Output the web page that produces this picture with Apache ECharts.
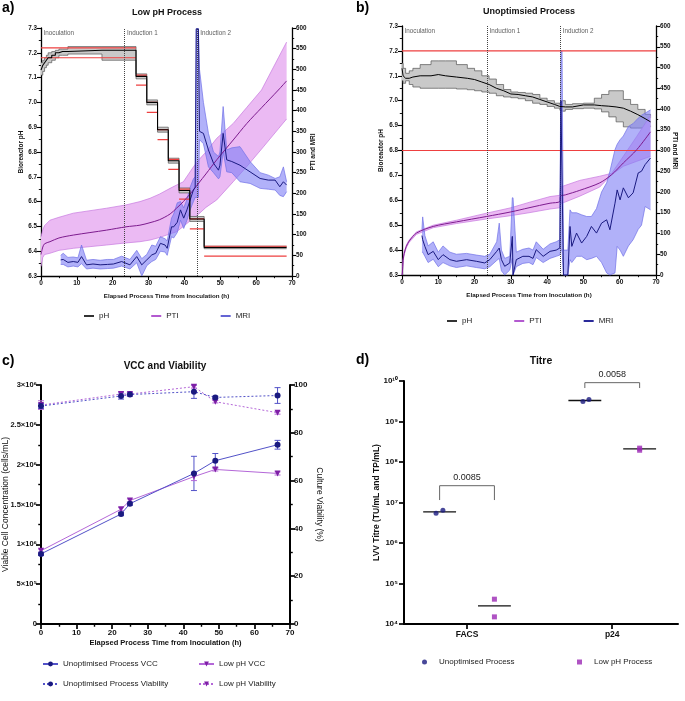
<!DOCTYPE html>
<html><head><meta charset="utf-8">
<script src="https://cdn.jsdelivr.net/npm/echarts@6/dist/echarts.min.js"></script>
<style>html,body{margin:0;padding:0;background:#fff}#c{width:685px;height:701px}</style>
</head><body><div id="c"></div>
<script>
// ---------------- DATA ----------------
// Panel a: Low pH process
const phA_t    = [0,0.5,1,1.5,2,3,4,5,6,7.5,17,26.5,29.5,32.5,35.5,38.5,41.5,45.5,68.5];
const phA_mean = [7.13,7.15,7.16,7.17,7.18,7.19,7.2,7.205,7.205,7.21,7.21,7.105,7.0,6.89,6.765,6.645,6.53,6.415,6.415];
const phA_lo   = [7.11,7.125,7.14,7.15,7.16,7.17,7.18,7.19,7.19,7.195,7.17,7.095,6.99,6.88,6.755,6.635,6.52,6.41,6.41];
const phA_hi   = [7.16,7.17,7.18,7.19,7.2,7.205,7.21,7.215,7.215,7.225,7.225,7.115,7.01,6.9,6.775,6.655,6.54,6.42,6.42];
const spA_start = [0,26.5,29.5,32.5,35.5,38.5,41.5,45.5];
const spA_end   = [26.5,29.5,32.5,35.5,38.5,41.5,45.5,68.5];
const spA_hi    = [7.22,7.11,7.0,6.89,6.77,6.65,6.53,6.42];
const spA_lo    = [7.18,7.07,6.96,6.85,6.73,6.61,6.49,6.38];
const ptiA_t    = [0,0.5,1,2.5,5,9,18.3,23.7,27.6,30.4,33,36,37.8,39.7,42.5,44,46,49,53.6,57.4,61.5,66.2,68.5];
const ptiA_mean = [52,70,78,83,92,99,111,119,123,129,136,150,164,180,208,225,247,281,329,369,407,450,472];
const ptiA_hi   = [95,112,122,135,142,152,164,172,180,188,198,212,220,228,264,281,300,333,369,408,450,528,566];
const ptiA_lo   = [23,45,52,55,62,67,75,80,83,87,93,102,107,120,140,150,166,184,228,265,307,356,380];
const mriA_t    = [5.5,6.2,7.5,9,10.3,11.3,12.7,14.5,16.5,18.5,20.2,22.5,24.8,26.7,28.1,29.5,30.9,32,33.3,34.6,35.2,36.4,37,38,38.9,39.8,40.7,41.6,42.5,43,43.3,43.9,44.2,45.3,46.7,48.1,49.5,49.9,50.8,51.8,53.2,55.5,58.3,61.1,63.4,65.3,66.6,67.6,68.5];
const mriA_mean = [39,40,33,35,33,47,27,29,27,28,29,35,27,47,27,39,51,55,79,75,67,119,119,130,160,140,160,184,208,215,598,598,350,345,305,273,256,268,345,281,277,268,252,236,232,232,216,228,220];
const mriA_hi   = [50,55,45,46,44,75,38,40,38,40,40,48,40,62,42,52,75,72,95,90,85,140,150,177,180,165,185,215,235,240,598,598,500,420,345,300,289,300,410,305,310,313,277,250,244,236,240,264,228];
const mriA_lo   = [28,28,22,24,22,30,17,19,17,18,19,24,17,32,0,25,35,40,60,58,50,95,92,105,135,115,135,160,180,190,190,190,330,320,264,250,235,240,300,252,250,228,224,212,210,208,195,192,204];

// Panel b: Unoptimised process
const phB_t    = [0,0.3,1,2,3,5,8,10,12,15,18,20,22,24,26,28,30,32,34,36,38,40,42,43.5,44,45,47,50,53,55,57,59,61,63,65,67,68.5];
const phB_mean = [7.13,7.1,7.09,7.09,7.095,7.1,7.1,7.105,7.1,7.095,7.09,7.085,7.075,7.065,7.05,7.04,7.027,7.025,7.02,7.015,7.005,6.995,6.985,6.977,6.97,6.975,6.975,6.983,6.983,6.98,6.978,6.975,6.97,6.958,6.944,6.928,6.915];
const phB_hi   = [7.15,7.13,7.11,7.12,7.13,7.145,7.16,7.16,7.16,7.145,7.13,7.12,7.1,7.087,7.065,7.045,7.035,7.033,7.03,7.025,7.01,7.0,6.99,6.985,7.0,6.985,6.988,6.99,7.01,7.025,7.04,7.04,7.005,6.985,6.965,6.945,6.93];
const phB_lo   = [7.08,7.07,7.08,7.065,7.055,7.05,7.05,7.05,7.05,7.047,7.044,7.04,7.035,7.03,7.02,7.015,7.012,7.008,7.0,6.99,6.985,6.977,6.97,6.962,6.958,6.965,6.968,6.97,6.967,6.955,6.935,6.915,6.895,6.89,6.89,6.895,6.9];
const limB = [7.2, 6.8];
const ptiB_t    = [0,0.1,0.3,0.6,1.2,2,4,8.6,15,23.3,30,35,40.8,43.5,43.7,45,49,54.5,57.8,61,64.7,68.5];
const ptiB_mean = [0,5,35,52,69,82,101,117,128,141,152,162,173,177,190,193,204,222,242,270,302,345];
const ptiB_hi   = [0,6,37,55,72,85,104,120,132,149,162,175,189,192,212,216,228,238,245,286,334,385];
const ptiB_lo   = [0,4,33,49,66,79,98,114,124,135,143,150,159,162,172,176,190,212,242,262,274,286];
const mriB_t    = [5.5,5.7,6.3,7.2,8.6,10,11.3,13.2,15,17.8,20.5,22.8,24.2,26.1,26.8,27.4,28.3,29.7,30.4,30.6,31.5,33.3,35,36.1,37,38.9,40.8,42.5,43.5,43.8,44.1,44.5,45.7,46.3,46.8,48.1,49.5,50.9,52.2,53.6,55,56.4,57.3,58.7,59.3,60.1,61,62.4,63.7,65.1,66,67,68.5];
const mriB_mean = [95,85,69,49,57,37,49,37,33,37,33,29,37,57,65,37,21,29,93,0,37,45,45,40,61,45,57,60,65,420,420,0,0,117,69,101,77,93,117,101,125,133,109,173,205,181,210,186,198,246,250,266,282];
const mriB_hi   = [110,140,95,70,80,55,70,55,50,52,48,45,50,80,125,60,40,45,186,186,55,62,65,60,80,62,75,80,85,540,540,60,60,157,150,150,145,141,141,160,200,222,250,302,315,326,335,358,365,378,385,390,398];
const mriB_lo   = [55,55,45,30,38,20,30,22,18,22,18,15,20,35,40,10,0,12,40,0,20,28,30,25,42,30,40,45,48,60,60,0,0,37,30,45,45,37,40,45,30,5,0,5,69,60,45,70,85,110,120,165,157];

const eventNames = ['Inoculation','Induction 1','Induction 2'];
const eventA_t = [0, 23.3, 43.7];
const eventB_t = [0, 23.4, 43.6];

// Panel c: VCC and viability
const vccT = [0, 22.5, 25, 43, 49, 66.5];
const unoptVCC = [0.88e6, 1.38e6, 1.51e6, 1.89e6, 2.05e6, 2.25e6];
const unoptVCCerr = [0.02e6, 0.02e6, 0.02e6, 0.215e6, 0.09e6, 0.055e6];
const lowVCC = [0.92e6, 1.44e6, 1.55e6, 1.85e6, 1.94e6, 1.89e6];
const lowVCCerr = [0.02e6, 0.02e6, 0.02e6, 0.05e6, 0.02e6, 0.02e6];
const unoptViab = [91.2, 95.4, 96, 97.2, 94.8, 95.6];
const unoptViabErr = [1, 1.3, 0.7, 2.8, 0.5, 3.3];
const lowViab = [91.6, 96.2, 96.2, 99.3, 93, 88.4];
const lowViabErr = [1.8, 1, 0.8, 0.6, 0.5, 0.6];

// Panel d: Titre
const titreCats = ['FACS', 'p24'];
const unoptTitre = [[5.4e6, 6.4e6], [3.1e9, 3.5e9]];
const lowTitre = [[4.1e4, 1.5e4], [2.2e8, 1.95e8]];
const unoptTitreMean = [5.9e6, 3.3e9];
const lowTitreMean = [2.8e4, 2.1e8];
const pValues = ['0.0085', '0.0058'];

// ---------------- LAYOUT CONSTANTS ----------------
const catPos = [23, 76];
const grpOff = 10;
const unoptJit = [[-1.3, 1.2], [-0.7, 1.5]];
const lowJit = [[0, 0], [0, 0]];
const meanHalf = 6;
const brTop = [2.6e7, 9.1e9];
const brBot = [1.15e7, 6.7e9];

const FONT = "'Liberation Sans', Arial, Helvetica, sans-serif";
const SUP = {'0':'⁰','1':'¹','2':'²','3':'³','4':'⁴','5':'⁵','6':'⁶','7':'⁷','8':'⁸','9':'⁹','-':'⁻'};
const sup = s => String(s).split('').map(c => SUP[c] || c).join('');

function merge(t, s) {
  for (const k in s) {
    const v = s[k];
    if (v && typeof v === 'object' && !Array.isArray(v)) t[k] = merge((t[k] && typeof t[k] === 'object') ? t[k] : {}, v);
    else t[k] = v;
  }
  return t;
}
function axisBase(lw, tl, fs, extra) {
  return merge({
    type: 'value',
    nameMoveOverlap: false,
    axisLine: {show: true, onZero: false, lineStyle: {color: '#000', width: lw}},
    axisTick: {show: true, inside: false, length: tl, lineStyle: {color: '#000', width: lw * 0.85}},
    minorTick: {show: true, splitNumber: 2, length: tl * 0.55, lineStyle: {color: '#000', width: lw * 0.7}},
    splitLine: {show: false}, minorSplitLine: {show: false},
    axisLabel: {color: '#111', fontSize: fs, fontWeight: 'bold', fontFamily: FONT},
    nameLocation: 'middle',
    nameTextStyle: {color: '#111', fontWeight: 'bold', fontFamily: FONT}
  }, extra);
}
const pairs = (t, v) => t.map((x, i) => [x, v[i]]);
function segs(st, en, v) {
  const d = [];
  st.forEach((s, i) => { d.push([s, v[i]]); d.push([en[i], v[i]]); d.push([en[i], '-']); });
  return d;
}
// shaded band between lo and hi, drawn as one polygon through the axis scales
function band(xi, yi, t, lo, hi, fill, border, step, z) {
  return {type: 'custom', xAxisIndex: xi, yAxisIndex: yi, silent: true, z: z,
    data: t.map((x, i) => [x, lo[i], hi[i]]), encode: {x: 0, y: [1, 2]},
    renderItem: (p, api) => {
      if (p.dataIndex !== 0) return null;
      const up = [], dn = [];
      for (let i = 0; i < t.length; i++) {
        if (step && i > 0) { up.push(api.coord([t[i], hi[i - 1]])); dn.push(api.coord([t[i], lo[i - 1]])); }
        up.push(api.coord([t[i], hi[i]])); dn.push(api.coord([t[i], lo[i]]));
      }
      return {type: 'group', children: [
        {type: 'polygon', shape: {points: up.concat(dn.slice().reverse())}, style: {fill: fill, stroke: null}},
        {type: 'polyline', shape: {points: up}, style: {stroke: border, lineWidth: 0.7, fill: null}},
        {type: 'polyline', shape: {points: dn}, style: {stroke: border, lineWidth: 0.7, fill: null}}
      ]};
    }};
}
function eventSeries(xi, yi, times) {
  return {type: 'scatter', xAxisIndex: xi, yAxisIndex: yi, symbolSize: 1, silent: true, z: 20,
    itemStyle: {color: 'transparent'},
    data: times.map((t, i) => ({value: [t, 7.278], name: eventNames[i]})),
    label: {show: true, position: 'right', distance: 2, formatter: p => p.name, fontSize: 6.3, color: '#333', fontFamily: FONT}};
}
function errSeries(xi, yi, t, v, e, color, w) {
  return {type: 'custom', xAxisIndex: xi, yAxisIndex: yi, silent: true, z: 4,
    data: t.map((x, i) => [x, v[i] - e[i], v[i] + e[i]]),
    encode: {x: 0, y: [1, 2]},
    renderItem: (p, api) => {
      const x = api.value(0);
      const a = api.coord([x, api.value(1)]), b = api.coord([x, api.value(2)]);
      const st = {stroke: color, lineWidth: 1};
      return {type: 'group', children: [
        {type: 'line', shape: {x1: a[0], y1: a[1], x2: b[0], y2: b[1]}, style: st},
        {type: 'line', shape: {x1: a[0] - w, y1: a[1], x2: a[0] + w, y2: a[1]}, style: st},
        {type: 'line', shape: {x1: b[0] - w, y1: b[1], x2: b[0] + w, y2: b[1]}, style: st}
      ]};
    }};
}

const C = {
  ph: '#000', phBand: '#c9c9c9', phBorder: '#555',
  red: '#ee4040',
  pti: '#7d1b8e', ptiBand: '#ebbaf3', ptiBorder: '#c77ae0',
  mri: '#1a1a80', mriBand: 'rgba(125,125,245,0.6)', mriBorder: '#7070e6',
  uLine: '#5252c8', uMark: '#1a1a80', lLine: '#b467d8', lMark: '#7e1fa6',
  dU: '#1a1a80', dL: '#9b28b4'
};

const xName = 'Elapsed Process Time from Inoculation (h)';

const option = {
  animation: false,
  backgroundColor: '#fff',
  textStyle: {fontFamily: FONT},
  title: [
    {text: 'a)', left: 2, top: 1, padding: 0, textStyle: {fontSize: 14, fontWeight: 'bold', color: '#000', fontFamily: FONT}},
    {text: 'Low pH Process', left: 167, top: 8, padding: 0, textAlign: 'center', textStyle: {fontSize: 9, fontWeight: 'bold', color: '#111', fontFamily: FONT}},
    {text: 'b)', left: 356, top: 1, padding: 0, textStyle: {fontSize: 14, fontWeight: 'bold', color: '#000', fontFamily: FONT}},
    {text: 'Unoptimsied Process', left: 529, top: 7, padding: 0, textAlign: 'center', textStyle: {fontSize: 9, fontWeight: 'bold', color: '#111', fontFamily: FONT}},
    {text: 'c)', left: 2, top: 354, padding: 0, textStyle: {fontSize: 14, fontWeight: 'bold', color: '#000', fontFamily: FONT}},
    {text: 'VCC and Viability', left: 165, top: 361, padding: 0, textAlign: 'center', textStyle: {fontSize: 10, fontWeight: 'bold', color: '#111', fontFamily: FONT}},
    {text: 'd)', left: 356, top: 353, padding: 0, textStyle: {fontSize: 14, fontWeight: 'bold', color: '#000', fontFamily: FONT}},
    {text: 'Titre', left: 541, top: 356, padding: 0, textAlign: 'center', textStyle: {fontSize: 10.5, fontWeight: 'bold', color: '#111', fontFamily: FONT}}
  ],
  legend: [
    {left: 84, top: 312, itemGap: 42, itemWidth: 10, itemHeight: 2, icon: 'rect', selectedMode: false, padding: 0,
      textStyle: {fontSize: 8, color: '#222'},
      data: [{name: 'pH', itemStyle: {color: '#333'}}, {name: 'PTI', itemStyle: {color: '#b35ad0'}}, {name: 'MRI', itemStyle: {color: '#6464d4'}}]},
    {left: 447, top: 317, itemGap: 42, itemWidth: 10, itemHeight: 2, icon: 'rect', selectedMode: false, padding: 0,
      textStyle: {fontSize: 8, color: '#222'},
      data: [{name: 'pH', itemStyle: {color: '#333'}}, {name: 'PTI', itemStyle: {color: '#b35ad0'}}, {name: 'MRI', itemStyle: {color: '#2a2a9a'}}]},
    {left: 42, top: 660, itemWidth: 15, itemHeight: 6, selectedMode: false, padding: 0, textStyle: {fontSize: 8, color: '#222'}, data: ['Unoptimised Process VCC']},
    {left: 198, top: 660, itemWidth: 15, itemHeight: 6, selectedMode: false, padding: 0, textStyle: {fontSize: 8, color: '#222'}, data: ['Low pH VCC']},
    {left: 42, top: 680, itemWidth: 15, itemHeight: 6, selectedMode: false, padding: 0, textStyle: {fontSize: 8, color: '#222'}, data: ['Unoptimised Process Viability']},
    {left: 198, top: 680, itemWidth: 15, itemHeight: 6, selectedMode: false, padding: 0, textStyle: {fontSize: 8, color: '#222'}, data: ['Low pH Viability']},
    {left: 422, top: 658, itemWidth: 5, itemHeight: 5, selectedMode: false, padding: 0, textStyle: {fontSize: 8, color: '#222', padding: [0, 0, 0, 7]}, data: ['Unoptimised Process']},
    {left: 577, top: 658, itemWidth: 5, itemHeight: 5, selectedMode: false, padding: 0, textStyle: {fontSize: 8, color: '#222', padding: [0, 0, 0, 7]}, data: ['Low pH Process']}
  ],
  grid: [
    {left: 41, top: 28, width: 251, height: 248, containLabel: false, outerBoundsMode: 'none'},
    {left: 402, top: 26, width: 254, height: 249, containLabel: false, outerBoundsMode: 'none'},
    {left: 41, top: 385, width: 249, height: 239, containLabel: false, outerBoundsMode: 'none'},
    {left: 404, top: 381, width: 274, height: 243, containLabel: false, outerBoundsMode: 'none'}
  ],
  xAxis: [
    axisBase(1.3, 4, 6.5, {gridIndex: 0, min: 0, max: 70, interval: 10, name: xName, nameGap: 17, nameTextStyle: {fontSize: 6.2}, axisLabel: {margin: 4}}),
    axisBase(1.3, 4, 6.5, {gridIndex: 1, min: 0, max: 70, interval: 10, name: xName, nameGap: 17, nameTextStyle: {fontSize: 6.2}, axisLabel: {margin: 4}}),
    axisBase(2, 5, 8, {gridIndex: 2, min: 0, max: 70, interval: 10, name: xName, nameGap: 15, nameTextStyle: {fontSize: 7.5}, axisLabel: {margin: 5}}),
    axisBase(2, 5, 8.5, {gridIndex: 3, min: 0, max: 100, minorTick: {show: false},
      axisTick: {customValues: catPos}, axisLabel: {customValues: catPos, margin: 6, formatter: v => titreCats[catPos.indexOf(v)] || ''}})
  ],
  yAxis: [
    axisBase(1.3, 4, 6.3, {gridIndex: 0, min: 6.3, max: 7.3, interval: 0.1, name: 'Bioreactor pH', nameGap: 16, nameTextStyle: {fontSize: 6.5},
      axisLabel: {margin: 4, formatter: v => v.toFixed(1)}}),
    axisBase(1.3, 4, 6.3, {gridIndex: 0, position: 'right', min: 0, max: 600, interval: 50, name: 'PTI and MRI', nameRotate: 90, nameGap: 18, nameTextStyle: {fontSize: 6.5},
      axisLabel: {margin: 4}}),
    axisBase(1.3, 4, 6.3, {gridIndex: 1, min: 6.3, max: 7.3, interval: 0.1, name: 'Bioreactor pH', nameGap: 17.5, nameTextStyle: {fontSize: 6.5},
      axisLabel: {margin: 4, formatter: v => v.toFixed(1)}}),
    axisBase(1.3, 4, 6.3, {gridIndex: 1, position: 'right', min: 0, max: 600, interval: 50, name: 'PTI and MRI', nameRotate: -90, nameGap: 15, nameTextStyle: {fontSize: 6.5},
      axisLabel: {margin: 4}}),
    axisBase(2, 5, 7.5, {gridIndex: 2, min: 0, max: 3e6, interval: 5e5, name: 'Viable Cell Concentration (cells/mL)', nameGap: 31,
      nameTextStyle: {fontSize: 8.5, fontWeight: 'normal'},
      axisLabel: {margin: 4, formatter: v => {
        if (v === 0) return '0';
        const e = Math.floor(Math.log10(v) + 1e-9); const m = +(v / Math.pow(10, e)).toFixed(2);
        return m + '×10' + sup(e);
      }}}),
    axisBase(2, 5, 8, {gridIndex: 2, position: 'right', min: 0, max: 100, interval: 20, name: 'Culture Viability (%)', nameRotate: -90, nameGap: 25,
      nameTextStyle: {fontSize: 8.5, fontWeight: 'normal'}, axisLabel: {margin: 4}}),
    axisBase(2, 5, 8, {type: 'log', logBase: 10, gridIndex: 3, min: 1e4, max: 1e10, splitNumber: 6, minorTick: {show: false},
      name: 'LVV Titre (TU/mL and TP/mL)', nameGap: 23, nameTextStyle: {fontSize: 8.5},
      axisLabel: {margin: 6, formatter: v => '10' + sup(Math.round(Math.log10(v)))}})
  ],
  series: [
    // ---- panel a ----
    band(0, 1, ptiA_t, ptiA_lo, ptiA_hi, C.ptiBand, C.ptiBorder, false, 1),
    band(0, 1, mriA_t, mriA_lo, mriA_hi, C.mriBand, C.mriBorder, false, 2),
    band(0, 0, phA_t, phA_lo, phA_hi, C.phBand, C.phBorder, true, 3),
    {type: 'line', xAxisIndex: 0, yAxisIndex: 0, data: segs(spA_start, spA_end, spA_hi), symbol: 'none', silent: true, z: 4, lineStyle: {color: C.red, width: 1.2}},
    {type: 'line', xAxisIndex: 0, yAxisIndex: 0, data: segs(spA_start, spA_end, spA_lo), symbol: 'none', silent: true, z: 4, lineStyle: {color: C.red, width: 1.2}},
    {name: 'PTI', type: 'line', xAxisIndex: 0, yAxisIndex: 1, data: pairs(ptiA_t, ptiA_mean), symbol: 'none', smooth: 0.3, z: 5, lineStyle: {color: C.pti, width: 1}},
    {name: 'MRI', type: 'line', xAxisIndex: 0, yAxisIndex: 1, data: pairs(mriA_t, mriA_mean), symbol: 'none', z: 6, lineStyle: {color: C.mri, width: 1}},
    {name: 'pH', type: 'line', xAxisIndex: 0, yAxisIndex: 0, data: pairs(phA_t, phA_mean), symbol: 'none', step: 'end', z: 7, lineStyle: {color: C.ph, width: 1.1},
      markLine: {silent: true, symbol: 'none', label: {show: false}, lineStyle: {color: '#444', type: 'dotted', width: 1},
        data: eventA_t.slice(1).map(t => ({xAxis: t}))}},
    eventSeries(0, 0, eventA_t),
    // ---- panel b ----
    band(1, 2, phB_t, phB_lo, phB_hi, C.phBand, C.phBorder, true, 1),
    band(1, 3, ptiB_t, ptiB_lo, ptiB_hi, C.ptiBand, C.ptiBorder, false, 2),
    band(1, 3, mriB_t, mriB_lo, mriB_hi, C.mriBand, C.mriBorder, false, 3),
    {type: 'line', xAxisIndex: 1, yAxisIndex: 2, data: segs([0, 0], [70, 70], limB), symbol: 'none', silent: true, z: 4, lineStyle: {color: C.red, width: 1.2}},
    {name: 'PTI', type: 'line', xAxisIndex: 1, yAxisIndex: 3, data: pairs(ptiB_t, ptiB_mean), symbol: 'none', smooth: 0.3, z: 5, lineStyle: {color: C.pti, width: 1}},
    {name: 'MRI', type: 'line', xAxisIndex: 1, yAxisIndex: 3, data: pairs(mriB_t, mriB_mean), symbol: 'none', z: 6, lineStyle: {color: C.mri, width: 1}},
    {name: 'pH', type: 'line', xAxisIndex: 1, yAxisIndex: 2, data: pairs(phB_t, phB_mean), symbol: 'none', z: 7, lineStyle: {color: C.ph, width: 1},
      markLine: {silent: true, symbol: 'none', label: {show: false}, lineStyle: {color: '#444', type: 'dotted', width: 1},
        data: eventB_t.slice(1).map(t => ({xAxis: t}))}},
    eventSeries(1, 2, eventB_t),
    // ---- panel c ----
    errSeries(2, 4, vccT, unoptVCC, unoptVCCerr, C.uLine, 3),
    errSeries(2, 4, vccT, lowVCC, lowVCCerr, C.lLine, 3),
    errSeries(2, 5, vccT, unoptViab, unoptViabErr, C.uLine, 3),
    errSeries(2, 5, vccT, lowViab, lowViabErr, C.lLine, 3),
    {name: 'Unoptimised Process VCC', type: 'line', xAxisIndex: 2, yAxisIndex: 4, data: pairs(vccT, unoptVCC), symbol: 'circle', symbolSize: 6, z: 6,
      itemStyle: {color: C.uMark}, lineStyle: {color: C.uLine, width: 1}},
    {name: 'Low pH VCC', type: 'line', xAxisIndex: 2, yAxisIndex: 4, data: pairs(vccT, lowVCC), symbol: 'triangle', symbolRotate: 180, symbolSize: 6, z: 5,
      itemStyle: {color: C.lMark}, lineStyle: {color: C.lLine, width: 1}},
    {name: 'Unoptimised Process Viability', type: 'line', xAxisIndex: 2, yAxisIndex: 5, data: pairs(vccT, unoptViab), symbol: 'circle', symbolSize: 6, z: 6,
      itemStyle: {color: C.uMark}, lineStyle: {color: C.uLine, width: 1, type: [2, 2]}},
    {name: 'Low pH Viability', type: 'line', xAxisIndex: 2, yAxisIndex: 5, data: pairs(vccT, lowViab), symbol: 'triangle', symbolRotate: 180, symbolSize: 6, z: 5,
      itemStyle: {color: C.lMark}, lineStyle: {color: C.lLine, width: 1, type: [2, 2]}},
    // ---- panel d ----
    {type: 'custom', xAxisIndex: 3, yAxisIndex: 6, silent: true, z: 3,
      data: catPos.map((c, i) => [c - grpOff, unoptTitreMean[i]]).concat(catPos.map((c, i) => [c + grpOff, lowTitreMean[i]])),
      encode: {x: 0, y: 1},
      renderItem: (p, api) => {
        const c = api.value(0), m = api.value(1);
        const a = api.coord([c - meanHalf, m]), b = api.coord([c + meanHalf, m]);
        return {type: 'line', shape: {x1: a[0], y1: a[1], x2: b[0], y2: b[1]}, style: {stroke: '#111', lineWidth: 1.3}};
      }},
    {type: 'custom', xAxisIndex: 3, yAxisIndex: 6, silent: true, z: 3,
      data: catPos.map((c, i) => [c - grpOff, c + grpOff, brTop[i], brBot[i]]),
      encode: {x: [0, 1], y: [2, 3]},
      renderItem: (p, api) => {
        const x1 = api.value(0), x2 = api.value(1), yt = api.value(2), yb = api.value(3);
        const a = api.coord([x1, yb]), b = api.coord([x1, yt]), c = api.coord([x2, yt]), d = api.coord([x2, yb]);
        return {type: 'group', children: [
          {type: 'polyline', shape: {points: [a, b, c, d]}, style: {stroke: '#666', lineWidth: 1, fill: null}},
          {type: 'text', x: (b[0] + c[0]) / 2, y: b[1] - 4, style: {text: pValues[p.dataIndex], fontSize: 9, fill: '#222', align: 'center', verticalAlign: 'bottom', fontFamily: FONT}}
        ]};
      }},
    {name: 'Unoptimised Process', type: 'scatter', xAxisIndex: 3, yAxisIndex: 6, symbol: 'circle', symbolSize: 5, z: 5, itemStyle: {color: C.dU},
      data: unoptTitre.flatMap((vals, i) => vals.map((v, j) => [catPos[i] - grpOff + unoptJit[i][j], v]))},
    {name: 'Low pH Process', type: 'scatter', xAxisIndex: 3, yAxisIndex: 6, symbol: 'rect', symbolSize: 5, z: 5, itemStyle: {color: C.dL},
      data: lowTitre.flatMap((vals, i) => vals.map((v, j) => [catPos[i] + grpOff + lowJit[i][j], v]))}
  ]
};
const chart = echarts.init(document.getElementById('c'));
chart.setOption(option);
</script></body></html>
